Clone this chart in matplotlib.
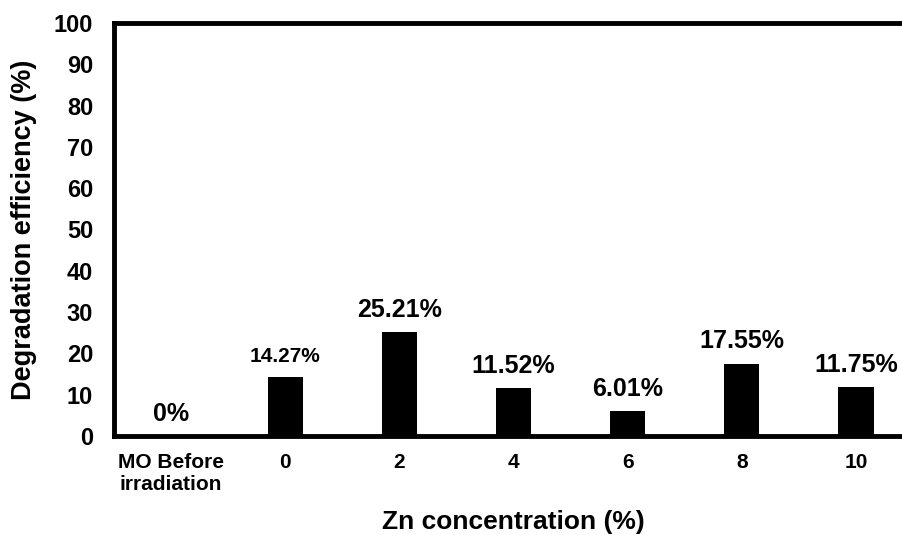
import matplotlib.pyplot as plt

plt.rcParams['font.family'] = ['Liberation Sans', 'DejaVu Sans']
plt.rcParams['font.weight'] = 'bold'

categories = ['MO Before\nirradiation', '0', '2', '4', '6', '8', '10']
efficiency = [0, 14.27, 25.21, 11.52, 6.01, 17.55, 11.75]
value_labels = ['0%', '14.27%', '25.21%', '11.52%', '6.01%', '17.55%', '11.75%']
label_sizes = [18, 15, 18, 18, 18, 18, 18]

fig = plt.figure(figsize=(9.03, 5.35), dpi=100)
ax = fig.add_axes([114 / 903, 1 - 436 / 535, 799 / 903, 413 / 535])

x = list(range(len(categories)))
ax.bar(x, efficiency, width=0.31, color='black')

for xi, val, lab, fs in zip(x, efficiency, value_labels, label_sizes):
    ax.annotate(lab, (xi, val), xytext=(0, 11), textcoords='offset points',
                ha='center', va='baseline', fontsize=fs, fontweight='bold')

ax.set_xlim(-0.5, 6.5)
ax.set_ylim(0, 100)
ax.set_yticks(range(0, 101, 10))
ax.set_xticks(x)
ax.set_xticklabels(categories, fontsize=15, fontweight='bold')
ax.tick_params(axis='y', length=0, pad=15, labelsize=17)
ax.tick_params(axis='x', length=0, pad=12)

for side in ['left', 'top', 'bottom']:
    ax.spines[side].set_linewidth(3.5)
ax.spines['right'].set_visible(False)

ax.set_xlabel('Zn concentration (%)', fontsize=19, fontweight='bold', labelpad=12)
ax.set_ylabel('Degradation efficiency (%)', fontsize=19.5, fontweight='bold', labelpad=12)

fig.savefig('out.png', dpi=100)
